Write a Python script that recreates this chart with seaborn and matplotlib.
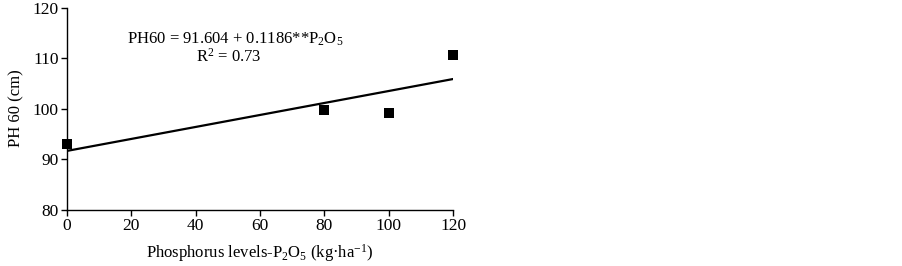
import matplotlib
matplotlib.use("Agg")
import matplotlib.pyplot as plt
import seaborn as sns
import numpy as np
import pandas as pd

# Data
p_levels = [0, 80, 100, 120]
ph60 = [93.0, 99.8, 99.2, 110.6]
intercept = 91.604
slope = 0.1186
x_ticks = [0, 20, 40, 60, 80, 100, 120]
y_ticks = [80, 90, 100, 110, 120]

sns.set_theme(style="white")
plt.rcParams['font.family'] = ['Liberation Serif', 'DejaVu Serif']
plt.rcParams['mathtext.fontset'] = 'custom'
plt.rcParams['mathtext.rm'] = 'Liberation Serif'
plt.rcParams['mathtext.it'] = 'Liberation Serif'

df = pd.DataFrame({"x": p_levels, "y": ph60})
fit_x = np.array([min(p_levels), max(p_levels)])
fit_df = pd.DataFrame({"x": fit_x, "y": intercept + slope * fit_x})

fig = plt.figure(figsize=(9.03, 2.66), dpi=100)
ax = fig.add_axes([0.0742, 0.2124, 0.4275, 0.7594])

sns.lineplot(data=fit_df, x="x", y="y", ax=ax, color="black", linewidth=1.6)
sns.scatterplot(data=df, x="x", y="y", ax=ax, marker="s", s=60, color="black",
                edgecolor="black", linewidth=0, zorder=3, clip_on=False)

ax.set_xlim(0, 120)
ax.set_ylim(80, 120)
ax.set_xticks(x_ticks)
ax.set_yticks(y_ticks)
ax.tick_params(axis="both", which="major", labelsize=12.5, colors="black",
               direction="out", length=4, width=1, bottom=True, left=True, pad=2)
for s in ["top", "right"]:
    ax.spines[s].set_visible(False)
for s in ["left", "bottom"]:
    ax.spines[s].set_color("black")
    ax.spines[s].set_linewidth(1)

ax.set_xlabel("Phosphorus levels-P$_2$O$_5$ (kg·ha$^{-1}$)", fontsize=12, color="black", labelpad=6)
ax.set_ylabel("PH 60 (cm)", fontsize=12, color="black", labelpad=6)

ax.text(0.435, 0.845, "PH60 = 91.604 + 0.1186**P$_2$O$_5$", transform=ax.transAxes,
        ha="center", va="center", fontsize=12, color="black")
ax.text(0.42, 0.755, "R$^2$ = 0.73", transform=ax.transAxes,
        ha="center", va="center", fontsize=12, color="black")

fig.savefig("out.png", dpi=100)
